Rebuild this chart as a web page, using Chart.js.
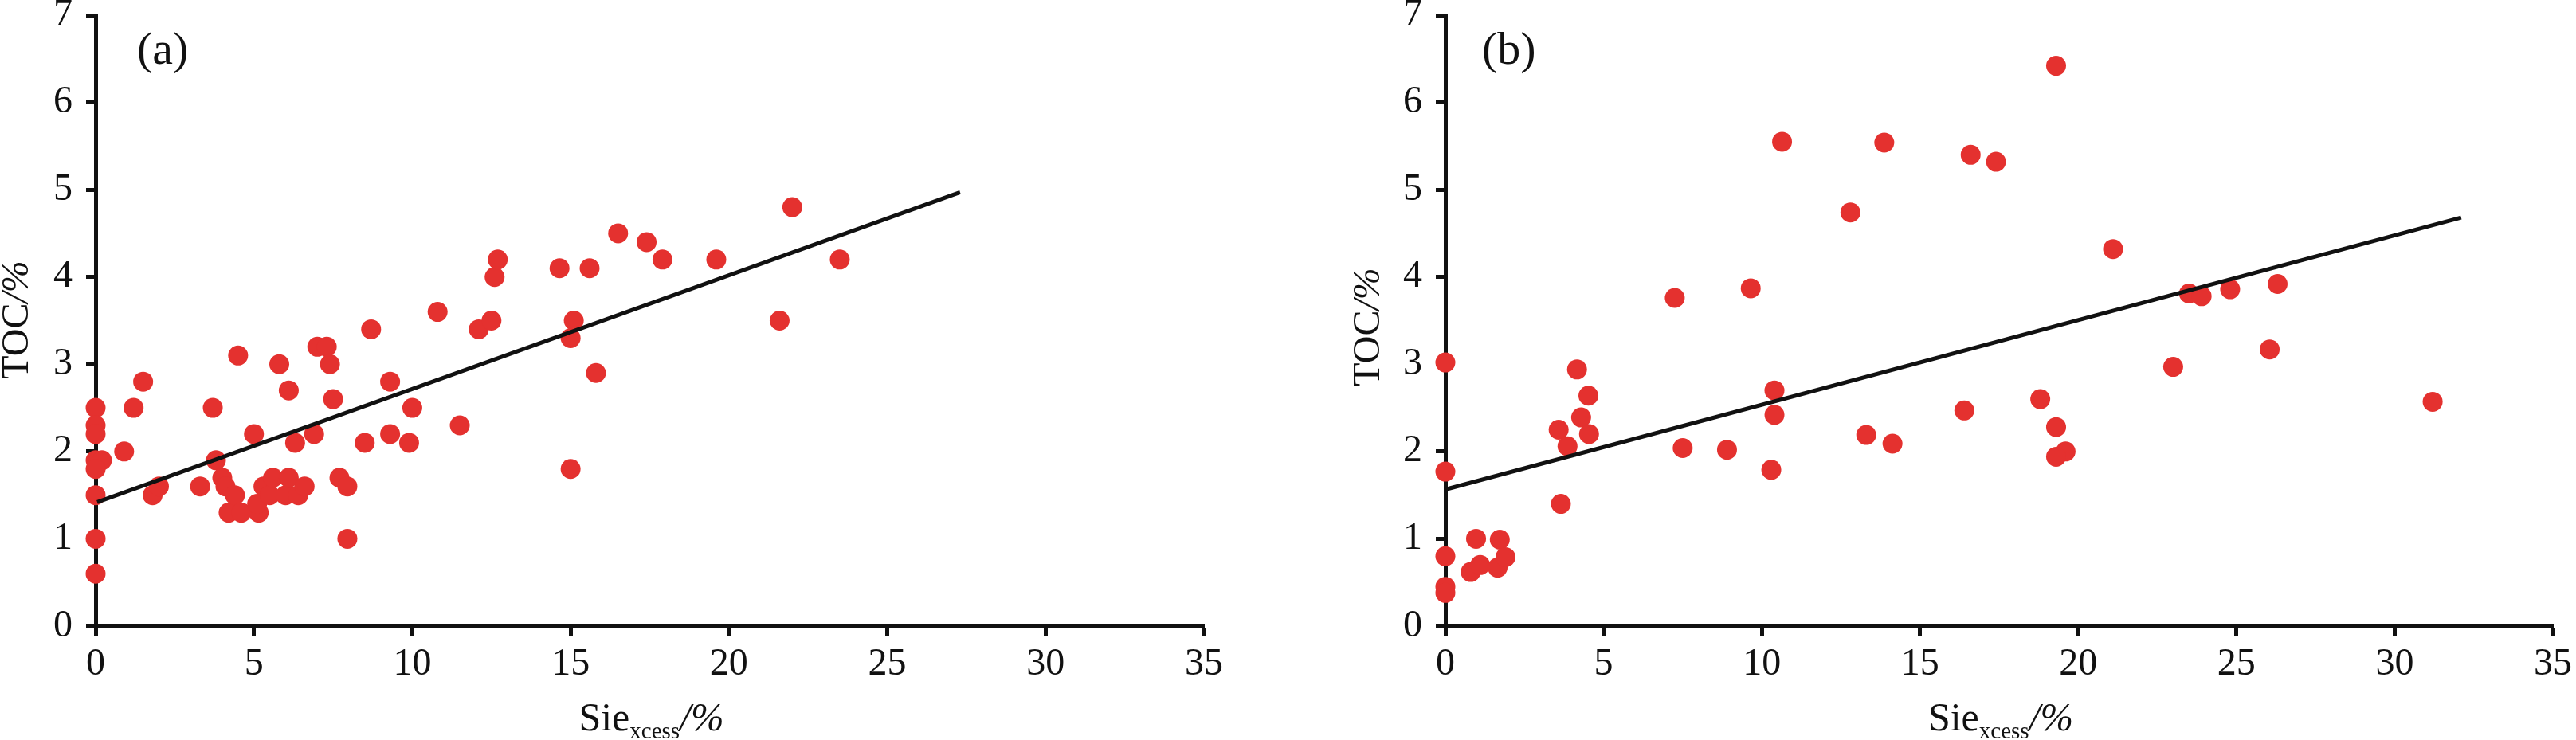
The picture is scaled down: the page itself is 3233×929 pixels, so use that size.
<!DOCTYPE html>
<html>
<head>
<meta charset="utf-8">
<title>TOC vs Si excess</title>
<script src="https://cdn.jsdelivr.net/npm/chart.js@4.4.1/dist/chart.umd.min.js"></script>
<style>
  html, body { margin: 0; padding: 0; background: #fff; }
  #wrap { position: relative; width: 3233px; height: 929px; overflow: hidden; }
  #wrap canvas { position: absolute; top: 0; }
</style>
</head>
<body>
<div id="wrap">
  <canvas id="chartA" width="1616" height="929" style="left:0px"></canvas>
  <canvas id="chartB" width="1617" height="929" style="left:1616px"></canvas>
</div>
<script>
// ---- data ----
const xTicks = [0, 5, 10, 15, 20, 25, 30, 35];
const yTicks = [0, 1, 2, 3, 4, 5, 6, 7];

// panel (a)
const aSie = [0, 0, 0, 0, 0.2, 0, 0, 0, 0, 0.9, 1.2, 1.5, 1.8, 2.0, 3.3, 3.7, 3.8, 4.0, 4.1, 4.2,
  4.4, 4.5, 4.6, 5.0, 5.15, 5.1, 5.3, 5.5, 5.6, 6.0, 6.1, 6.4, 6.6, 5.8, 6.1, 6.3, 6.9, 7.0, 7.3, 7.4,
  7.5, 7.7, 7.95, 7.95, 8.5, 8.7, 9.3, 9.3, 9.9, 10.0, 10.8, 11.5, 12.1, 12.5, 12.6, 12.7, 14.65, 15.0, 15.1, 15.0,
  15.6, 15.8, 16.5, 17.4, 17.9, 19.6, 21.6, 22.0, 23.5];
const aToc = [2.5, 2.3, 2.2, 1.9, 1.9, 1.8, 1.5, 1.0, 0.6, 2.0, 2.5, 2.8, 1.5, 1.6, 1.6, 2.5, 1.9, 1.7, 1.6, 1.3,
  1.5, 3.1, 1.3, 2.2, 1.3, 1.4, 1.6, 1.5, 1.7, 1.5, 1.7, 1.5, 1.6, 3.0, 2.7, 2.1, 2.2, 3.2, 3.2, 3.0,
  2.6, 1.7, 1.6, 1.0, 2.1, 3.4, 2.8, 2.2, 2.1, 2.5, 3.6, 2.3, 3.4, 3.5, 4.0, 4.2, 4.1, 3.3, 3.5, 1.8,
  4.1, 2.9, 4.5, 4.4, 4.2, 4.2, 3.5, 4.8, 4.2];
const aFitX = [0.05, 27.3];
const aFitY = [1.42, 4.97];

// panel (b)
const bSie = [0, 0, 0, 0, 0, 0.97, 0.8, 1.1, 1.72, 1.65, 1.9, 3.58, 3.86, 3.65, 4.16, 4.29, 4.52, 4.54, 7.25, 7.5,
  8.9, 9.65, 10.3, 10.4, 10.4, 10.64, 12.8, 13.3, 13.87, 14.13, 19.3, 16.6, 17.4, 21.1, 23.5, 23.9, 24.8, 26.3, 26.05, 23.0,
  16.4, 18.8, 19.3, 19.6, 19.3, 31.2];
const bToc = [3.02, 1.77, 0.8, 0.45, 0.38, 1.0, 0.62, 0.7, 0.99, 0.67, 0.79, 2.25, 2.06, 1.4, 2.94, 2.39, 2.64, 2.2, 3.76, 2.04,
  2.02, 3.87, 1.79, 2.7, 2.42, 5.55, 4.74, 2.19, 5.54, 2.09, 6.42, 5.4, 5.32, 4.32, 3.81, 3.78, 3.86, 3.92, 3.17, 2.97,
  2.47, 2.6, 2.28, 2.0, 1.94, 2.57];
const bFitX = [0, 32.1];
const bFitY = [1.565, 4.68];

const xTitleParts = [
  { t: 'Sie', style: '', size: 50, dy: 0 },
  { t: 'xcess', style: '', size: 29, dy: 10 },
  { t: '/%', style: 'italic ', size: 50, dy: 0 }
];
const yTitleParts = [
  { t: 'TOC', style: '', size: 48 },
  { t: '/%', style: 'italic ', size: 48 }
];

const FONT = '"Liberation Serif", "Times New Roman", serif';
const INK = '#111';
const DOT = '#e4312f';

// axis titles (with subscript) and the panel letter
const panelText = {
  id: 'panelText',
  afterDraw(chart, args, o) {
    const ctx = chart.ctx;
    const a = chart.chartArea;
    ctx.save();
    ctx.fillStyle = INK;
    ctx.textAlign = 'left';
    ctx.textBaseline = 'alphabetic';

    ctx.font = '58px ' + FONT;
    ctx.fillText(o.label, a.left + o.labelDx, o.labelBaseline);

    // x title
    let w = 0;
    xTitleParts.forEach(p => {
      ctx.font = p.style + p.size + 'px ' + FONT;
      w += ctx.measureText(p.t).width;
    });
    let x = (a.left + a.right) / 2 + 2 - w / 2;
    xTitleParts.forEach(p => {
      ctx.font = p.style + p.size + 'px ' + FONT;
      ctx.fillText(p.t, x, o.xTitleBaseline + p.dy);
      x += ctx.measureText(p.t).width;
    });

    // y title, rotated
    ctx.translate(o.yTitleX, (a.top + a.bottom) / 2 + o.yTitleDy);
    ctx.rotate(-Math.PI / 2);
    w = 0;
    yTitleParts.forEach(p => {
      ctx.font = p.style + p.size + 'px ' + FONT;
      w += ctx.measureText(p.t).width;
    });
    x = -w / 2;
    yTitleParts.forEach(p => {
      ctx.font = p.style + p.size + 'px ' + FONT;
      ctx.fillText(p.t, x, 0);
      x += ctx.measureText(p.t).width;
    });
    ctx.restore();
  }
};

function makeChart(id, sie, toc, fitX, fitY, o) {
  const pts = sie.map((v, i) => ({ x: v, y: toc[i] }));
  const fit = fitX.map((v, i) => ({ x: v, y: fitY[i] }));
  const axis = {
    grid: { drawOnChartArea: false, drawTicks: true, tickLength: 12, tickWidth: 5, tickColor: INK },
    border: { display: true, color: INK, width: 5 }
  };
  return new Chart(document.getElementById(id), {
    type: 'scatter',
    data: {
      datasets: [
        {
          type: 'line', data: fit, borderColor: INK, borderWidth: 5,
          pointRadius: 0, fill: false, order: 0, clip: false
        },
        {
          type: 'scatter', data: pts, backgroundColor: DOT, borderWidth: 0,
          pointRadius: 12.5, pointHoverRadius: 12.5, order: 1, clip: false
        }
      ]
    },
    options: {
      responsive: false,
      animation: false,
      devicePixelRatio: 1,
      layout: { padding: { left: 0, top: 19, right: o.padRight, bottom: 0 } },
      plugins: { legend: { display: false }, tooltip: { enabled: false }, panelText: o },
      scales: {
        x: Object.assign({
          type: 'linear', min: 0, max: 35,
          afterBuildTicks: s => { s.ticks = xTicks.map(v => ({ value: v })); },
          afterFit: s => { s.height = 143; s.paddingLeft = 0; s.paddingRight = 0; },
          ticks: { color: INK, font: { family: FONT, size: 48, lineHeight: 1.2 }, padding: 8,
                   maxRotation: 0, autoSkip: false }
        }, axis),
        y: Object.assign({
          type: 'linear', min: 0, max: 7,
          afterBuildTicks: s => { s.ticks = yTicks.map(v => ({ value: v })); },
          afterFit: s => { s.width = o.yWidth; s.paddingTop = 0; s.paddingBottom = 0; },
          ticks: { color: INK, font: { family: FONT, size: 48, lineHeight: 1.2 }, padding: 17,
                   autoSkip: false }
        }, axis)
      }
    },
    plugins: [panelText]
  });
}

function build() {
  makeChart('chartA', aSie, aToc, aFitX, aFitY, {
    label: '(a)', labelDx: 52, labelBaseline: 80, xTitleBaseline: 917,
    yTitleX: 35, yTitleDy: -1, yWidth: 120, padRight: 105
  });
  makeChart('chartB', bSie, bToc, bFitX, bFitY, {
    label: '(b)', labelDx: 46, labelBaseline: 80, xTitleBaseline: 917,
    yTitleX: 115, yTitleDy: 8, yWidth: 198, padRight: 29
  });
}

Promise.all([
  document.fonts.load('48px "Liberation Serif"'),
  document.fonts.load('italic 48px "Liberation Serif"')
]).then(build, build);
</script>
</body>
</html>
